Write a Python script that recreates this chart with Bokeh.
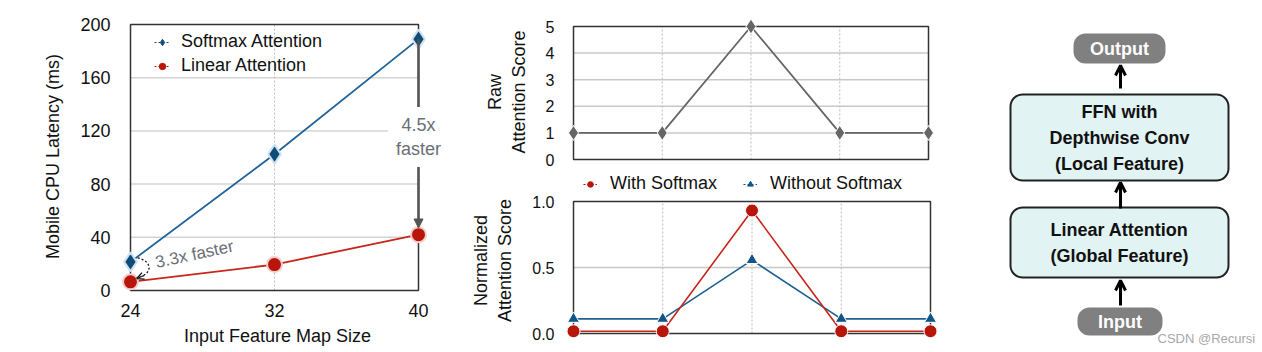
from bokeh.plotting import figure
from bokeh.layouts import row, column
from bokeh.models import (Range1d, FixedTicker, Legend, LegendItem, Label, Arrow,
                          NormalHead, OpenHead, ColumnDataSource, PrintfTickFormatter)
from bokeh.core.properties import value
from bokeh.embed import file_html
from bokeh.resources import INLINE

FONT = "Liberation Sans"

# ---------------- data ----------------
map_sizes = [24, 32, 40]
softmax_latency = [21.5, 102.5, 189]
linear_latency = [6.5, 19.5, 42]
latency_ticks = [0, 40, 80, 120, 160, 200]
speedup_labels = ["3.3x faster", "4.5x\nfaster"]

token_pos = [0, 1, 2, 3, 4]
raw_scores = [1, 1, 5, 1, 1]
raw_ticks = [0, 1, 2, 3, 4, 5]
with_softmax = [0.017, 0.017, 0.932, 0.017, 0.017]
without_softmax = [0.111, 0.111, 0.556, 0.111, 0.111]
norm_ticks = [0.0, 0.5, 1.0]

block_labels = ["Output", "FFN with\nDepthwise Conv\n(Local Feature)",
                "Linear Attention\n(Global Feature)", "Input"]
watermark = "CSDN @Recursi"

BLUE_LINE = "#21649a"
BLUE_MARK = "#0f4c7a"
RED_LINE = "#c8261a"
RED_MARK = "#b8160b"
ANN = "#6a6f77"
FRAME = "#333333"


def padded(lo, hi, span_px, pad_lo, pad_hi):
    per = (hi - lo) / span_px
    return Range1d(lo - pad_lo * per, hi + pad_hi * per)


def style_axes(p, tick_size="18px", label_size="18px"):
    for ax in p.axis:
        ax.axis_line_color = None
        ax.major_tick_line_color = None
        ax.minor_tick_line_color = None
        ax.major_tick_out = 0
        ax.major_tick_in = 0
        ax.major_label_text_font = FONT
        ax.major_label_text_font_size = tick_size
        ax.major_label_text_color = "#111111"
        ax.axis_label_text_font = FONT
        ax.axis_label_text_font_size = label_size
        ax.axis_label_text_font_style = "normal"
        ax.axis_label_text_color = "#111111"


def hgrid(p, ys, x0, x1, color="#d0d0d0", width=1.5):
    p.segment(x0=[x0] * len(ys), x1=[x1] * len(ys), y0=ys, y1=ys,
              line_color=color, line_width=width)


def vgrid(p, xs, y0, y1):
    p.segment(x0=xs, x1=xs, y0=[y0] * len(xs), y1=[y1] * len(xs),
              line_color="#bbbbbb", line_width=1, line_dash="2 2")


def frame_box(p, x0, x1, y0, y1):
    p.quad(left=[x0], right=[x1], bottom=[y0], top=[y1], fill_color=None,
           line_color=FRAME, line_width=1.5)


def legend_dummy(p, color, marker, msize):
    src = ColumnDataSource(data=dict(x=[-1e6, -1e6 + 1], y=[-1e6, -1e6]))
    ln = p.line("x", "y", source=src, line_color=color, line_dash="2 2", line_width=1.2)
    mk = p.scatter("x", "y", source=src, marker=marker, size=msize, fill_color=color, line_color=color)
    return [ln, mk]


# ---------------- left: latency ----------------
xlo, xhi = map_sizes[0], map_sizes[-1]
ylo, yhi = latency_ticks[0], latency_ticks[-1]
p1 = figure(width=460, height=352, x_range=padded(xlo, xhi, 288, 18, 24),
            y_range=padded(ylo, yhi, 266, 12, 14),
            output_backend="svg", toolbar_location=None, frame_align=False,
            min_border_left=112, min_border_right=18, min_border_top=10, min_border_bottom=50)
p1.outline_line_color = None
p1.grid.visible = False
p1.xaxis.ticker = FixedTicker(ticks=map_sizes)
p1.yaxis.ticker = FixedTicker(ticks=latency_ticks)
style_axes(p1)
p1.xaxis.axis_label = "Input Feature Map Size"
p1.yaxis.axis_label = "Mobile CPU Latency (ms)"
p1.yaxis.major_label_standoff = 2
p1.xaxis.major_label_standoff = 1
p1.yaxis.axis_label_standoff = 14
p1.xaxis.axis_label_standoff = 6
hgrid(p1, latency_ticks[1:-1], xlo, xhi, color="#d4d4d4")
vgrid(p1, [map_sizes[1]], ylo, yhi)

p1.line(map_sizes, softmax_latency, line_color=BLUE_LINE, line_width=1.8)
p1.line(map_sizes, linear_latency, line_color=RED_LINE, line_width=1.8)
frame_box(p1, xlo, xhi, ylo, yhi)
p1.scatter(map_sizes, softmax_latency, marker="diamond", size=19, fill_color=BLUE_MARK,
           line_color="#cfe0ee", line_width=2)
p1.scatter(map_sizes, linear_latency, marker="circle", size=15, fill_color=RED_MARK,
           line_color="#f3cccc", line_width=2)

leg1 = Legend(items=[LegendItem(label="Softmax Attention", renderers=legend_dummy(p1, BLUE_MARK, "diamond", 14)),
                     LegendItem(label="Linear Attention", renderers=legend_dummy(p1, RED_MARK, "circle", 9))],
              location=(36, 220), glyph_width=16, glyph_height=20, label_height=20, spacing=3,
              padding=6, margin=0, label_standoff=11, background_fill_alpha=0, border_line_alpha=0,
              label_text_font=FONT, label_text_font_size="18px", label_text_color="#111111")
p1.add_layout(leg1)

# 4.5x arrow + label
p1.add_layout(Arrow(end=NormalHead(size=9, fill_color="#555555", line_color="#555555"),
                    x_start=map_sizes[-1], y_start=softmax_latency[-1],
                    x_end=map_sizes[-1], y_end=linear_latency[-1] + 5,
                    line_color="#555555", line_width=2.5))
p1.add_layout(Label(x=map_sizes[-1], y=(softmax_latency[-1] + linear_latency[-1]) / 2,
                    text=speedup_labels[1], text_align="center", text_baseline="middle",
                    text_font=FONT, text_font_size="18px", text_color=ANN,
                    background_fill_color="white", padding=8))
# 3.3x curved dotted arrow + label
p1.bezier(x0=[24.4], y0=[24.5], x1=[24.35], y1=[9.5], cx0=[25.25], cy0=[22], cx1=[25.25], cy1=[12],
          line_color="#111111", line_dash="2 2", line_width=1.3)
p1.add_layout(Arrow(end=OpenHead(size=7, line_width=1.3, line_color="#111111"),
                    x_start=24.75, y_start=11.2, x_end=24.35, y_end=9.0,
                    line_color="#111111", line_width=1.3, line_dash="2 2"))
p1.add_layout(Label(x=25.4, y=21, text=speedup_labels[0], angle=0.21, text_align="left",
                    text_baseline="alphabetic", text_font=FONT, text_font_size="17px", text_color=ANN))

# ---------------- middle top: raw scores ----------------
tlo, thi = token_pos[0], token_pos[-1]
p2 = figure(width=500, height=168, x_range=padded(tlo, thi, 355, 10, 10),
            y_range=padded(raw_ticks[0], raw_ticks[-1], 133, 8, 10),
            output_backend="svg", toolbar_location=None, frame_align=False,
            min_border_left=103, min_border_right=22, min_border_top=16, min_border_bottom=1)
p2.outline_line_color = None
p2.grid.visible = False
p2.xaxis.visible = False
p2.yaxis.ticker = FixedTicker(ticks=raw_ticks)
style_axes(p2, tick_size="16px")
p2.yaxis.axis_label = "Raw\nAttention Score"
p2.yaxis.major_label_standoff = 9
p2.yaxis.axis_label_standoff = 14
hgrid(p2, raw_ticks[1:-1], tlo, thi, color="#c8c8c8")
vgrid(p2, token_pos[1:-1], raw_ticks[0], raw_ticks[-1])
frame_box(p2, tlo, thi, raw_ticks[0], raw_ticks[-1])
p2.line(token_pos, raw_scores, line_color="#666666", line_width=1.8)
p2.scatter(token_pos, raw_scores, marker="diamond", size=15, fill_color="#666666",
           line_color="white", line_width=1)

# ---------------- middle bottom: normalized ----------------
p3 = figure(width=500, height=184, x_range=padded(tlo, thi, 357, 10, 8),
            y_range=padded(norm_ticks[0], norm_ticks[-1], 132, 19, 33),
            output_backend="svg", toolbar_location=None, frame_align=False,
            min_border_left=103, min_border_right=22, min_border_top=0, min_border_bottom=0)
p3.outline_line_color = None
p3.grid.visible = False
p3.xaxis.visible = False
p3.yaxis.ticker = FixedTicker(ticks=norm_ticks)
p3.yaxis.formatter = PrintfTickFormatter(format="%.1f")
style_axes(p3, tick_size="16px")
p3.yaxis.axis_label = "Normalized\nAttention Score"
p3.yaxis.major_label_standoff = 9
p3.yaxis.axis_label_standoff = 14
hgrid(p3, [norm_ticks[1]], tlo, thi, color="#c8c8c8")
vgrid(p3, token_pos[1:-1], norm_ticks[0], norm_ticks[-1])
frame_box(p3, tlo, thi, norm_ticks[0], norm_ticks[-1])
p3.line(token_pos, without_softmax, line_color="#1f5f8f", line_width=1.6)
p3.line(token_pos, with_softmax, line_color=RED_LINE, line_width=1.6)
p3.scatter(token_pos, without_softmax, marker="triangle", size=12, fill_color="#125488",
           line_color="white", line_width=1)
p3.scatter(token_pos, with_softmax, marker="circle", size=13, fill_color=RED_MARK,
           line_color="white", line_width=1)

leg3 = Legend(items=[LegendItem(label="With Softmax", renderers=legend_dummy(p3, RED_MARK, "circle", 8)),
                     LegendItem(label="Without Softmax", renderers=legend_dummy(p3, "#125488", "triangle", 8))],
              orientation="horizontal", location=(20, 158), glyph_width=14, glyph_height=18,
              label_height=18, spacing=26, padding=0, margin=0, label_standoff=13,
              background_fill_alpha=0, border_line_alpha=0,
              label_text_font=FONT, label_text_font_size="18px", label_text_color="#111111")
p3.add_layout(leg3)

# ---------------- right: block diagram ----------------
p4 = figure(width=302, height=352, x_range=Range1d(0, 302), y_range=Range1d(352, 0),
            output_backend="svg", toolbar_location=None, min_border=0, frame_align=False)
p4.axis.visible = False
p4.grid.visible = False
p4.outline_line_color = None

box_left = [113, 50, 50, 117]
box_right = [205, 268, 268, 202]
box_top = [33, 94, 207, 307]
box_bottom = [63, 180, 277, 335]
box_fill = ["#808080", "#e1f3f3", "#e1f3f3", "#808080"]
box_line = [None, "#222222", "#222222", None]
text_col = ["white", "#111111", "#111111", "white"]

for i in range(4):
    p4.quad(left=[box_left[i]], right=[box_right[i]], top=[box_top[i]], bottom=[box_bottom[i]],
            fill_color=box_fill[i], line_color=box_line[i], line_width=2, border_radius=12)
p4.text(x=[(l + r) / 2 for l, r in zip(box_left, box_right)],
        y=[(t + b) / 2 for t, b in zip(box_top, box_bottom)],
        text=block_labels, text_align="center", text_baseline="middle",
        text_font=value(FONT), text_font_style="bold", text_font_size="18px",
        text_color=text_col, text_line_height=1.3)
arrow_from = [88, 208, 305]
arrow_to = [65, 182, 280]
for a, b in zip(arrow_from, arrow_to):
    p4.add_layout(Arrow(end=OpenHead(size=10, line_width=3, line_color="black"),
                        x_start=160, y_start=a, x_end=160, y_end=b,
                        line_color="black", line_width=3))
p4.add_layout(Label(x=197, y=338, text=watermark, text_baseline="middle",
                    text_font=FONT, text_font_size="13px", text_color="#a8a8a8"))

layout = row(p1, column(p2, p3), p4)
open("out.html", "w").write(file_html(layout, INLINE))
